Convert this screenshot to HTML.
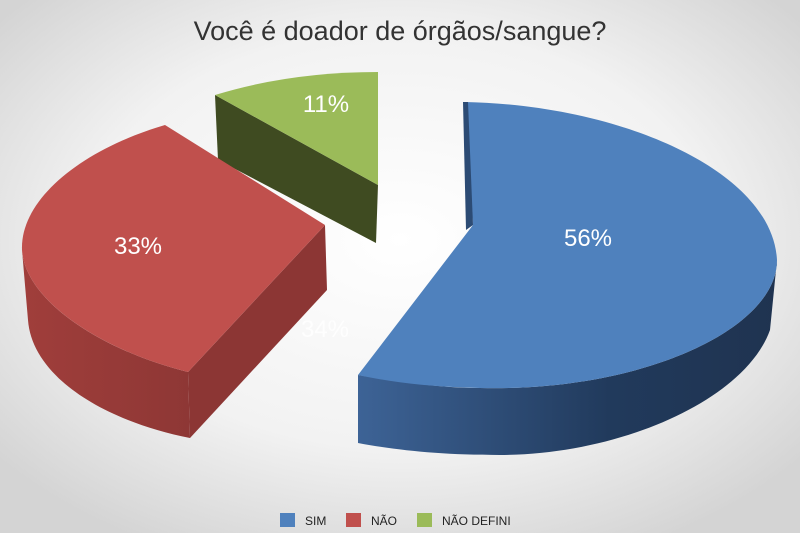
<!DOCTYPE html>
<html><head><meta charset="utf-8"><style>
html,body{margin:0;padding:0}
body{width:800px;height:533px;overflow:hidden;font-family:"Liberation Sans",sans-serif}
</style></head><body>
<svg width="800" height="533" viewBox="0 0 800 533" xmlns="http://www.w3.org/2000/svg">
<defs>
<radialGradient id="bg" cx="50%" cy="45%" r="65%">
<stop offset="0" stop-color="#ffffff"/><stop offset="0.6" stop-color="#f2f2f2"/><stop offset="1" stop-color="#d4d4d4"/>
</radialGradient>
<linearGradient id="bside" x1="0" x2="1" y1="0" y2="0">
<stop offset="0" stop-color="#3d6396"/><stop offset="0.6" stop-color="#213a5c"/><stop offset="1" stop-color="#1f3350"/>
</linearGradient>
<linearGradient id="rside" x1="0" x2="1" y1="0" y2="0">
<stop offset="0" stop-color="#a03e3b"/><stop offset="1" stop-color="#8e3735"/>
</linearGradient>
</defs>
<rect width="800" height="533" fill="url(#bg)"/>
<text x="400" y="40" text-anchor="middle" font-size="27" fill="#333">Você é doador de órgãos/sangue?</text>

<!-- green -->
<polygon points="215,95 378,185 376,243 218,160" fill="#3f4b21"/>
<path d="M215,95 Q290,72 378,72 L378,185 Z" fill="#9bbb59"/>

<!-- red -->
<path d="M22,250 C25,300 100,350 188,372 L190,438 C100,420 32,375 28,320 Z" fill="url(#rside)"/>
<polygon points="188,372 325,225 327,290 190,438" fill="#8c3634"/>
<path d="M165,125 C80,150 20,200 22,250 C25,300 100,350 188,372 L325,225 Z" fill="#c0504d"/>

<!-- blue -->
<path d="M358,375 C400,382 440,388 480,388 C640,392 777,330 777,260 L770,330 C745,400 620,455 500,455 C440,455 395,450 358,443 Z" fill="url(#bside)"/>
<path d="M465,102 C620,105 772,170 777,260 C777,330 640,392 480,388 C430,387 390,382 358,375 L473,225 Z" fill="#4f81bd"/>
<polygon points="463,102 468,102 473,225 466,230" fill="#2c4b74"/>

<text x="588" y="246" text-anchor="middle" font-size="24" fill="#fff">56%</text>
<text x="138" y="254" text-anchor="middle" font-size="24" fill="#fff">33%</text>
<text x="326" y="112" text-anchor="middle" font-size="24" fill="#fff">11%</text>
<text x="325" y="337" text-anchor="middle" font-size="24" fill="#fff" fill-opacity="0.8">34%</text>

<rect x="280" y="513" width="15" height="14" fill="#4f81bd"/>
<text x="305" y="525" font-size="12" fill="#222">SIM</text>
<rect x="346" y="513" width="15" height="14" fill="#c0504d"/>
<text x="371" y="525" font-size="12" fill="#222">NÃO</text>
<rect x="417" y="513" width="15" height="14" fill="#9bbb59"/>
<text x="442" y="525" font-size="12" fill="#222">NÃO DEFINI</text>
</svg>
</body></html>
